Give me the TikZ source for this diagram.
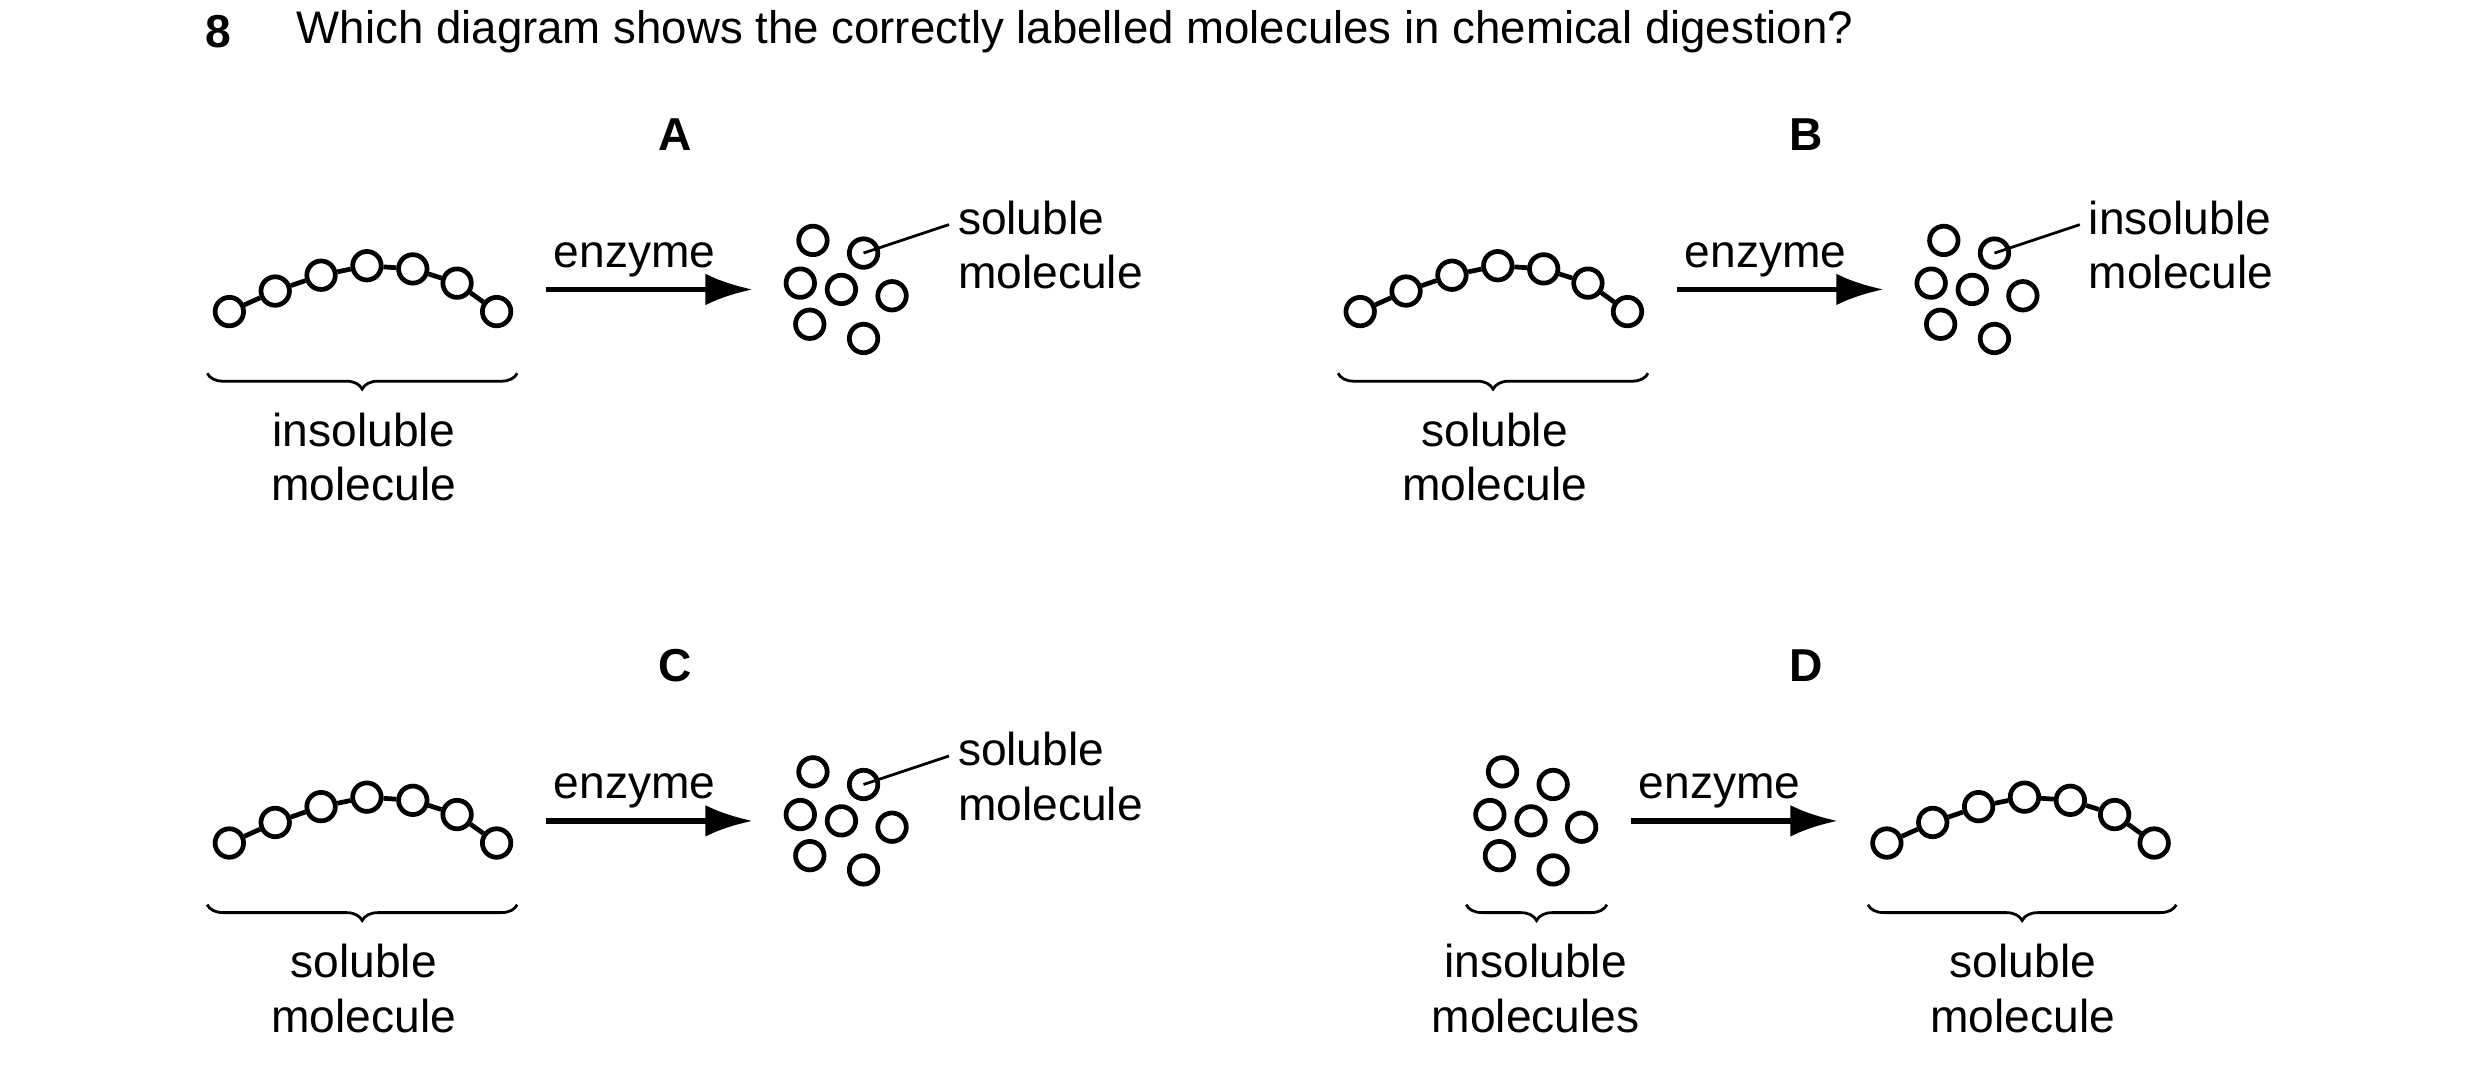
\documentclass[tikz,border=0pt]{standalone}
\usepackage{fontspec}
\setmainfont{Liberation Sans}
\usetikzlibrary{arrows.meta,decorations.pathreplacing}
\tikzset{>={Latex[width=2mm,length=3mm]}}

% chain of linked molecules: #1 prefix, #2 x shift, #3 y shift
\newcommand{\molchain}[3]{%
  \foreach \i/\px/\py in {1/145/197,2/174/184,3/203/174,4/232/168,5/261/170,6/289/179,7/314/197}
    {\node[mol] (#1\i) at ({\px+#2},{\py+#3}) {};}
  \foreach \i [evaluate=\i as \j using int(\i+1)] in {1,...,6}
    {\draw[bond] (#1\i) -- (#1\j);}
}
% loose molecules
\newcommand{\molcloud}[3]{%
  \foreach \i/\px/\py in {1/514/152,2/546/160,3/506/179,4/532/183,5/564/187,6/512/205,7/546/214}
    {\node[mol] (#1\i) at ({\px+#2},{\py+#3}) {};}
}

\begin{document}
\begin{tikzpicture}[x=0.01cm,y=-0.01cm,
    font=\fontsize{8.3pt}{9.8pt}\selectfont]
  \tikzstyle{mol} = [draw, circle, line width=0.85pt, minimum size=0.18cm, inner sep=0pt]
  \tikzstyle{bond} = [line width=0.85pt]
  \tikzstyle{react} = [line width=1pt, ->]
  \tikzstyle{lbl} = [align=center]
  \tikzstyle{side} = [align=left, anchor=west, inner sep=0pt]
  \tikzstyle{enz} = [pos=0.43, above=-1.6pt]
  \tikzstyle{brc} = [decorate, decoration={brace, mirror, amplitude=0.1cm}, line width=0.5pt]
  \tikzstyle{ttl} = [font=\fontsize{8.3pt}{9.8pt}\selectfont\bfseries]
  \useasboundingbox (0,0) rectangle (1568,678);

  \node[ttl] (qno) at (138,20) {8};
  \node[anchor=west, inner sep=0pt] (qtext) at (187,20) {\fontsize{8.2pt}{9.8pt}\selectfont Which diagram shows the correctly labelled molecules in chemical digestion?};

  % A
  \node[ttl] (tA) at (427,85) {A};
  \molchain{a}{0}{0}
  \coordinate (aL) at (131,236); \coordinate (aR) at (327,236);
  \draw[brc] (aL) -- (aR);
  \node[lbl] (aBot) at (230,289) {insoluble\\molecule};
  \coordinate (aS) at (345,183); \coordinate (aE) at (476,183);
  \draw[react] (aS) -- node[enz] (aEnz) {enzyme} (aE);
  \molcloud{ac}{0}{0}
  \node[side] (aTop) at (605,155) {soluble\\molecule};
  \coordinate (aTip) at (600,142);
  \draw[line width=0.5pt] (ac2.center) -- (aTip);

  % B
  \node[ttl] (tB) at (1142,85) {B};
  \molchain{b}{715}{0}
  \coordinate (bL) at (846,236); \coordinate (bR) at (1042,236);
  \draw[brc] (bL) -- (bR);
  \node[lbl] (bBot) at (945,289) {soluble\\molecule};
  \coordinate (bS) at (1060,183); \coordinate (bE) at (1191,183);
  \draw[react] (bS) -- node[enz] (bEnz) {enzyme} (bE);
  \molcloud{bc}{715}{0}
  \node[side] (bTop) at (1320,155) {insoluble\\molecule};
  \coordinate (bTip) at (1315,142);
  \draw[line width=0.5pt] (bc2.center) -- (bTip);

  % C
  \node[ttl] (tC) at (427,421) {C};
  \molchain{c}{0}{336}
  \coordinate (cL) at (131,572); \coordinate (cR) at (327,572);
  \draw[brc] (cL) -- (cR);
  \node[lbl] (cBot) at (230,625) {soluble\\molecule};
  \coordinate (cS) at (345,519); \coordinate (cE) at (476,519);
  \draw[react] (cS) -- node[enz] (cEnz) {enzyme} (cE);
  \molcloud{cc}{0}{336}
  \node[side] (cTop) at (605,491) {soluble\\molecule};
  \coordinate (cTip) at (600,478);
  \draw[line width=0.5pt] (cc2.center) -- (cTip);

  % D
  \node[ttl] (tD) at (1142,421) {D};
  \molcloud{dc}{436}{336}
  \coordinate (dL) at (927,572); \coordinate (dR) at (1016,572);
  \draw[brc] (dL) -- (dR);
  \node[lbl] (dBot) at (971,625) {insoluble\\molecules};
  \coordinate (dS) at (1031,519); \coordinate (dE) at (1162,519);
  \draw[react] (dS) -- node[enz] (dEnz) {enzyme} (dE);
  \molchain{d}{1048}{336}
  \coordinate (eL) at (1181,572); \coordinate (eR) at (1376,572);
  \draw[brc] (eL) -- (eR);
  \node[lbl] (eBot) at (1279,625) {soluble\\molecule};
\end{tikzpicture}
\end{document}
